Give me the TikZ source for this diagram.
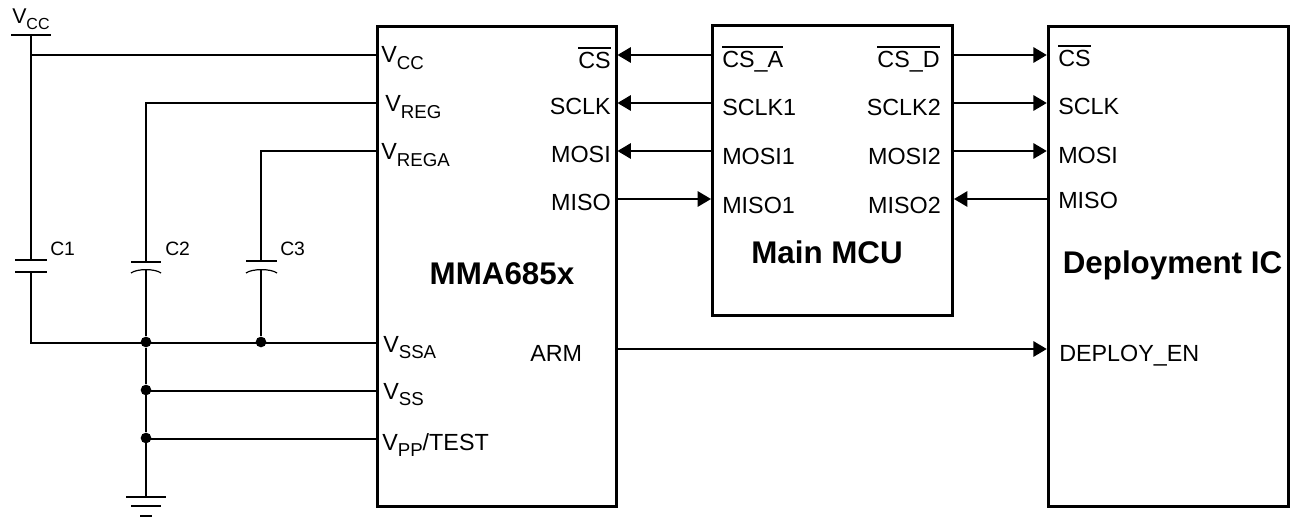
\documentclass[tikz,border=0pt]{standalone}
\usepackage{fontspec}
\setmainfont{Liberation Sans}
\usetikzlibrary{arrows.meta}
\newcommand{\pinsub}[3][14]{#2\raisebox{-0.28em}{\fontsize{#1}{16}\selectfont #3}}
\newcommand{\pinbar}[1]{\vbox{\hrule height 1pt \kern 3pt \hbox{#1}}}
\tikzset{
  chipbox/.style={draw, line width=2.25pt, inner sep=0pt},
  wire/.style={line width=1.5pt},
  sigarrow/.style={wire, -{Triangle[length=10pt, width=11.5pt]}},
  platebar/.style={line width=1.5pt},
  pinleft/.style={anchor=base west, inner sep=0pt, font=\fontsize{17.5}{20}\selectfont},
  pinright/.style={anchor=base east, inner sep=0pt, font=\fontsize{17.5}{20}\selectfont},
  chipname/.style={anchor=base, inner sep=0pt, font=\fontsize{23.5}{28}\selectfont\bfseries},
  capname/.style={anchor=base west, inner sep=0pt, font=\fontsize{14.5}{17}\selectfont},
  junction/.style={circle, fill, inner sep=0pt, minimum size=8pt}
}
\begin{document}
\begin{tikzpicture}[x=0.75pt, y=-0.75pt]
  \useasboundingbox (0,0) rectangle (1290,517);

  % Chips
  \node[chipbox, minimum width=179.25pt, minimum height=359.25pt] (mma) at (496.5,266.5) {};
  \node[chipbox, minimum width=180pt, minimum height=216.75pt] (mcu) at (832.5,170.5) {};
  \node[chipbox, minimum width=180pt, minimum height=359.25pt] (dep) at (1168.25,266.5) {};
  \node[chipname] (mmaname) at (502,284) {MMA685x};
  \node[chipname] (mcuname) at (827,263) {Main MCU};
  \node[chipname] (depname) at (1172.5,273) {Deployment IC};

  % SPI pins on the chip edges
  \foreach \n/\y in {cs/55, sclk/103, mosi/151, miso/199} {
    \coordinate (mma\n) at (mma.east |- 0,\y);
    \coordinate (mcua\n) at (mcu.west |- 0,\y);
    \coordinate (mcud\n) at (mcu.east |- 0,\y);
    \coordinate (dep\n) at (dep.west |- 0,\y);
  }
  \coordinate (mmaarm) at (mma.east |- 0,349);
  \coordinate (depen) at (dep.west |- 0,349);

  % Supply pins on the chip edge
  \foreach \n/\y in {vcc/55, vreg/103, vrega/151, vssa/343, vss/391, vpp/439} {
    \coordinate (mma\n) at (mma.west |- 0,\y);
  }

  % MMA685x labels
  \node[pinleft] (lvcc) at (381,63) {\pinsub{V}{CC}};
  \node[pinleft] (lvreg) at (385,112) {\pinsub{V}{REG}};
  \node[pinleft] (lvrega) at (381,160) {\pinsub{V}{REGA}};
  \node[pinleft] (lvssa) at (383,352) {\pinsub{V}{SSA}};
  \node[pinleft] (lvss) at (383,399) {\pinsub{V}{SS}};
  \node[pinleft] (lvpp) at (382,450) {\pinsub{V}{PP}/TEST};
  \node[pinright] (lmcs) at (611,69) {\pinbar{CS}};
  \foreach \n/\t/\y in {sclk/SCLK/115, mosi/MOSI/162, miso/MISO/210} {
    \node[pinright] (lm\n) at (611,\y) {\t};
  }
  \node[pinleft] (lmarm) at (530,361) {ARM};

  % Main MCU labels
  \node[pinleft] (lacs) at (722,68) {\pinbar{CS\_A}};
  \foreach \n/\t/\y in {sclk/SCLK1/116, mosi/MOSI1/165, miso/MISO1/213} {
    \node[pinleft] (la\n) at (722,\y) {\t};
  }
  \node[pinright] (ldcs) at (940,68) {\pinbar{CS\_D}};
  \foreach \n/\t/\y in {sclk/SCLK2/116, mosi/MOSI2/165, miso/MISO2/213} {
    \node[pinright] (ld\n) at (941,\y) {\t};
  }

  % Deployment IC labels
  \node[pinleft] (lpcs) at (1058,67) {\pinbar{CS}};
  \foreach \n/\t/\y in {sclk/SCLK/115, mosi/MOSI/163, miso/MISO/209} {
    \node[pinleft] (lp\n) at (1058,\y) {\t};
  }
  \node[pinleft] (lpen) at (1059,361) {DEPLOY\_EN};

  % SPI signals
  \foreach \n in {cs, sclk, mosi} {
    \draw[sigarrow] (mcua\n) -- (mma\n);
    \draw[sigarrow] (mcud\n) -- (dep\n);
  }
  \draw[sigarrow] (mmamiso) -- (mcuamiso);
  \draw[sigarrow] (depmiso) -- (mcudmiso);
  \draw[sigarrow] (mmaarm) -- (depen);

  % Supply rail
  \node[pinleft, font=\fontsize{16}{19}\selectfont] (lrail) at (12,24) {\pinsub[12]{V}{CC}};
  \coordinate (rail) at (31,35);
  \draw[platebar] (11,35) -- (51,35);
  \draw[wire] (31,55) -- (mmavcc);

  % Capacitors
  \node[capname] (lc1) at (50,255) {C1};
  \node[capname] (lc2) at (165,255) {C2};
  \node[capname] (lc3) at (280,255) {C3};
  \draw[platebar] (15,259.5) -- (47,259.5);
  \draw[platebar] (15,271.5) -- (47,271.5);
  \draw[platebar] (131,262) -- (161,262);
  \draw[line width=0.9pt] (131,273) .. controls (137,268.5) and (155,268.5) .. (161,273);
  \draw[platebar] (246,261) -- (277,261);
  \draw[line width=0.9pt] (246,273) .. controls (252,268.5) and (271,268.5) .. (277,273);

  % Junctions
  \node[junction] (ja) at (146,342) {};
  \node[junction] (jb) at (261,342) {};
  \node[junction] (jc) at (146,390) {};
  \node[junction] (jd) at (146,438) {};

  % Wiring to the capacitors
  \draw[wire] (rail) -- (31,259.5);
  \draw[wire] (31,271.5) |- (ja.center |- mmavssa) -- (mmavssa);
  \draw[wire] (mmavreg) -| (146,262);
  \draw[wire] (146,270) -- (ja);
  \draw[wire] (mmavrega) -| (261,261);
  \draw[wire] (261,270) -- (jb);
  \draw[wire] (jc) -- (jc.center |- mmavss) -- (mmavss);
  \draw[wire] (jd) -- (jd.center |- mmavpp) -- (mmavpp);

  % Ground
  \coordinate (gnd) at (146,497);
  \draw[wire] (ja) -- (jc);
  \draw[wire] (jc) -- (jd);
  \draw[wire] (jd) -- (gnd);
  \draw[platebar] (126,497) -- (166,497);
  \draw[platebar] (131,506) -- (161,506);
  \draw[platebar] (140,516) -- (152,516);
\end{tikzpicture}
\end{document}
